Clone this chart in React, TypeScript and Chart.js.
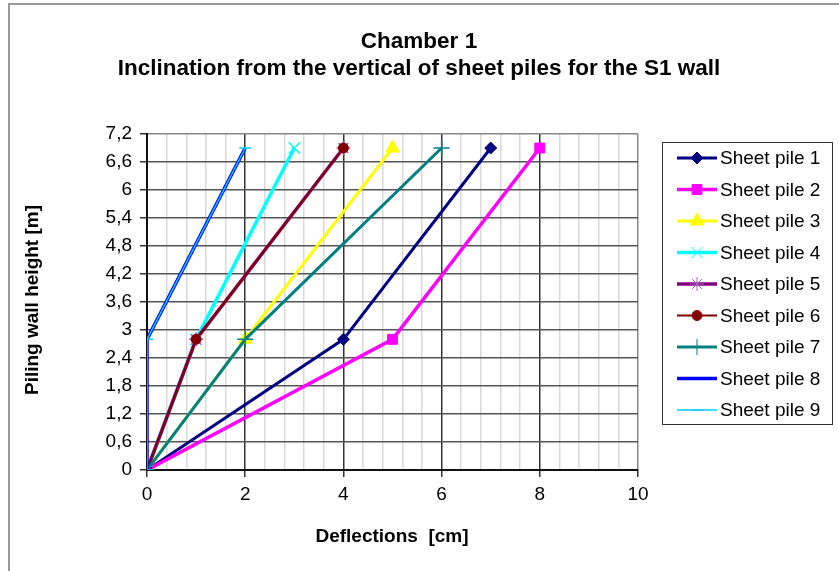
import React, { useEffect, useRef } from "react";
import { Chart, registerables } from "chart.js";
import { drawPoint } from "chart.js/helpers";

Chart.register(...registerables);

const seriesNames = [
  "Sheet pile 1", "Sheet pile 2", "Sheet pile 3", "Sheet pile 4", "Sheet pile 5",
  "Sheet pile 6", "Sheet pile 7", "Sheet pile 8", "Sheet pile 9",
];
const heights = [0, 2.8, 6.9];
const pile1 = [0, 4, 7];
const pile2 = [0, 5, 8];
const pile3 = [0, 2, 5];
const pile4 = [0, 1, 3];
const pile5 = [0, 1, 4];
const pile6 = [0, 1, 4];
const pile7 = [0, 2, 6];
const pile8 = [0, 0, 2];
const pile9 = [0, 0, 2];
const deflections = [pile1, pile2, pile3, pile4, pile5, pile6, pile7, pile8, pile9];

const colors = ["#000080", "#FF00FF", "#FFFF00", "#00FFFF", "#800080", "#800000", "#008080", "#0000FF", "#00CCFF"];
const pointStyles = ["rectRot", "rect", "triangle", "crossRot", "star", "circle", "cross", "circle", "line"];
const pointRadii = [6, 7, 8, 8, 7, 5, 8, 0, 6];
const lineWidths = [3, 3.5, 3, 3.5, 3.5, 2, 3, 3.5, 1.5];

const xTitle = "Deflections  [cm]";
const yTitle = "Piling wall height [m]";
const titleLines = ["Chamber 1", "Inclination from the vertical of sheet piles for the S1 wall"];

const FONT = "'Liberation Sans', Arial, sans-serif";

const isMult = (v: number, m: number) => Math.abs(v / m - Math.round(v / m)) < 1e-6;

export default function App() {
  const ref = useRef<HTMLCanvasElement>(null);
  useEffect(() => {
    const canvas = ref.current!;
    const decor = {
      id: "decor",
      beforeDraw(chart: any) {
        const c = chart.ctx;
        c.save();
        c.fillStyle = "#fff";
        c.fillRect(0, 0, chart.width, chart.height);
        c.strokeStyle = "#999";
        c.lineWidth = 2;
        c.beginPath();
        c.moveTo(9, chart.height);
        c.lineTo(9, 4);
        c.lineTo(chart.width, 4);
        c.stroke();
        c.restore();
      },
      afterDraw(chart: any) {
        const c = chart.ctx;
        c.save();
        c.fillStyle = "#000";
        c.textAlign = "center";
        c.textBaseline = "middle";
        c.font = `bold 22.5px ${FONT}`;
        c.fillText(titleLines[0], 419, 42);
        c.fillText(titleLines[1], 419, 69);
        c.font = `bold 19px ${FONT}`;
        c.fillText(xTitle, 392, 537);
        c.save();
        c.translate(33, 300);
        c.rotate(-Math.PI / 2);
        c.fillText(yTitle, 0, 0);
        c.restore();
        // legend
        c.strokeStyle = "#333";
        c.lineWidth = 1;
        c.strokeRect(662.5, 142.5, 170, 282);
        c.font = `19px ${FONT}`;
        c.textAlign = "left";
        for (let i = 0; i < seriesNames.length; i++) {
          const y = 158 + i * 31.5;
          c.strokeStyle = colors[i];
          c.lineWidth = lineWidths[i];
          c.beginPath();
          c.moveTo(677, y);
          c.lineTo(717, y);
          c.stroke();
          if (pointRadii[i] > 0) {
            c.fillStyle = colors[i];
            c.strokeStyle = i === 4 ? "#B060C0" : colors[i];
            c.lineWidth = 1;
            drawPoint(c, { pointStyle: pointStyles[i], radius: pointRadii[i], rotation: 0, borderWidth: 1 } as any, 697, y);
          }
          c.fillStyle = "#000";
          c.fillText(seriesNames[i], 720, y + 1);
        }
        c.restore();
      },
    };
    const chart = new Chart(canvas, {
      type: "scatter",
      data: {
        datasets: seriesNames.map((name, i) => ({
          label: name,
          data: heights.map((h, j) => ({ x: deflections[i][j], y: h })),
          showLine: true,
          borderColor: colors[i],
          backgroundColor: colors[i],
          borderWidth: lineWidths[i],
          pointStyle: pointStyles[i] as any,
          pointRadius: pointRadii[i],
          pointBorderWidth: i === 4 || i === 3 || i === 6 || i === 8 ? 1.5 : 1,
          pointBorderColor: i === 4 ? "#B060C0" : colors[i],
          order: 9 - i,
        })),
      },
      options: {
        responsive: false,
        animation: false,
        devicePixelRatio: 1,
        layout: { padding: { left: 0, top: 134, right: 201, bottom: 0 } },
        plugins: { legend: { display: false }, title: { display: false }, tooltip: { enabled: false } },
        scales: {
          x: {
            type: "linear",
            min: 0,
            max: 10,
            afterFit: (s: any) => { s.height = 101; },
            ticks: {
              stepSize: 0.4,
              autoSkip: false,
              maxRotation: 0,
              padding: 6,
              color: "#000",
              font: { family: FONT, size: 19 },
              callback: (v: any) => (isMult(Number(v), 2) ? String(Math.round(Number(v))) : ""),
            },
            grid: {
              lineWidth: 1.5,
              tickLength: 7,
              color: (ctx: any) => {
                const v = ctx.tick?.value ?? 0;
                if (isMult(v, 10) && v > 0) return "#888";
                return isMult(v, 2) ? "#333" : "#d9d9d9";
              },
              tickColor: (ctx: any) => (isMult(ctx.tick?.value ?? 0, 2) ? "#333" : "rgba(0,0,0,0)"),
            },
            border: { display: true, color: "#111", width: 2 },
          },
          y: {
            type: "linear",
            min: 0,
            max: 7.2,
            afterFit: (s: any) => { s.width = 147; },
            ticks: {
              stepSize: 0.6,
              autoSkip: false,
              padding: 8,
              color: "#000",
              font: { family: FONT, size: 19 },
              callback: (v: any) => String(Math.round(Number(v) * 10) / 10).replace(".", ","),
            },
            grid: {
              lineWidth: 1.5,
              tickLength: 7,
              color: (ctx: any) => {
                const v = ctx.tick?.value ?? 0;
                if (Math.abs(v - 7.2) < 1e-6) return "#888";
                return "#555";
              },
              tickColor: "#333",
            },
            border: { display: true, color: "#111", width: 2 },
          },
        },
      },
      plugins: [decor],
    });
    return () => chart.destroy();
  }, []);
  return (
    <div style={{ position: "absolute", left: 0, top: 0, width: 839, height: 571 }}>
      <canvas ref={ref} width={839} height={571} />
    </div>
  );
}
